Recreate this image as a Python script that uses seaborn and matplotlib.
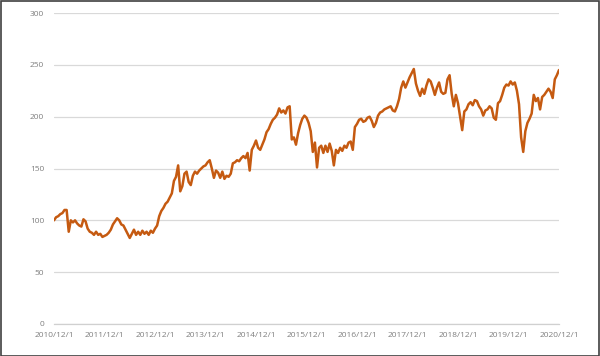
import matplotlib
matplotlib.use("Agg")
import matplotlib.pyplot as plt
import seaborn as sns
import pandas as pd
import numpy as np
from matplotlib.patches import Rectangle

# semi-monthly values, Dec 2010 .. Dec 2020
y2011 = [100,103,104,106,107,110,110,89,100,98,100,97,95,94,101,99,92,89,88,86,89,86,87,84]
y2012 = [85,86,88,91,96,99,102,100,96,95,91,87,83,87,91,86,89,86,90,87,89,86,90,88]
y2013 = [92,95,104,109,112,116,118,122,126,138,142,153,128,133,145,147,137,134,143,147,145,148,150,152]
y2014 = [153,156,158,150,141,148,146,141,147,140,143,142,145,155,156,158,157,160,162,160,165,148,168,172]
y2015 = [177,170,168,173,178,185,188,193,197,199,202,208,204,206,203,209,210,178,180,173,184,192,198,201]
y2016 = [199,194,186,166,175,151,170,172,165,172,166,174,167,153,168,165,170,167,172,170,175,176,168,190]
y2017 = [193,197,198,195,196,199,200,196,190,194,201,204,205,207,208,209,210,206,205,210,217,228,234,228]
y2018 = [233,238,242,246,232,225,220,227,222,230,236,234,228,221,228,233,224,222,223,236,240,222,210,221]
y2019 = [213,200,187,205,207,212,214,211,216,215,210,207,201,206,207,210,208,199,197,213,215,221,228,231]
y2020 = [230,234,231,233,225,212,180,166,186,194,198,203,221,215,218,207,219,221,224,227,224,218,236,240,245]

values = y2011 + y2012 + y2013 + y2014 + y2015 + y2016 + y2017 + y2018 + y2019 + y2020
tick_years = list(range(2010, 2021))
tick_labels = [f"{y}/12/1" for y in tick_years]

start = pd.Timestamp("2010-12-01")
end = pd.Timestamp("2020-12-01")
dates = pd.to_datetime(np.linspace(start.value, end.value, len(values)))
df = pd.DataFrame({"date": dates, "value": values})

sns.set_style("white")
plt.rcParams["font.family"] = ["Open Sans", "DejaVu Sans"]

fig = plt.figure(figsize=(6, 3.56), dpi=100)
ax = fig.add_axes([54/600, 32/356, 505/600, 311/356])
sns.lineplot(data=df, x="date", y="value", ax=ax, color="#C55A11", linewidth=1.8)

ax.set_ylim(0, 300)
ax.set_xlim(start, end)
ax.set_yticks([0, 50, 100, 150, 200, 250, 300])
ax.yaxis.grid(True, color="#D9D9D9", linewidth=0.9)
ax.set_axisbelow(True)
ax.set_xticks([pd.Timestamp(f"{y}-12-01") for y in tick_years])
ax.set_xticklabels(tick_labels)
ax.set_xlabel("")
ax.set_ylabel("")
for s in ["top", "right", "left"]:
    ax.spines[s].set_visible(False)
ax.spines["bottom"].set_color("#D0D0D0")
ax.spines["bottom"].set_linewidth(0.9)
ax.tick_params(axis="x", colors="#7F7F7F", labelsize=6, length=2.5, width=0.8, color="#D0D0D0", pad=3)
ax.tick_params(axis="y", colors="#7F7F7F", labelsize=6, length=0, pad=7)

fig.patches.append(Rectangle((0.5/600, 0.5/356), 1 - 1.5/600, 1 - 1.5/356, transform=fig.transFigure,
                             fill=False, edgecolor="#404040", linewidth=1.2))
fig.savefig("out.png", dpi=100)
